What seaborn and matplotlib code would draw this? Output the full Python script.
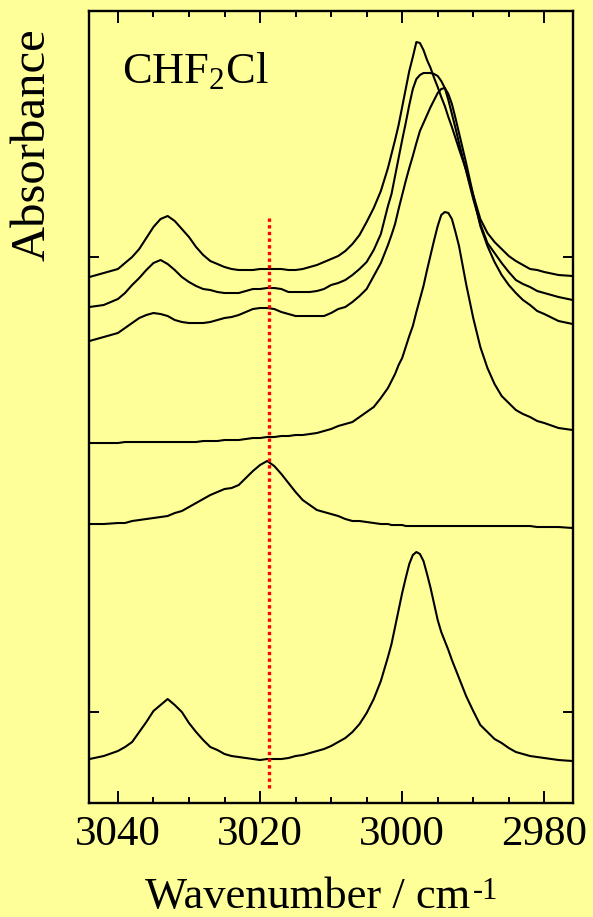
import matplotlib
matplotlib.use("Agg")
import matplotlib.pyplot as plt
from matplotlib.ticker import MultipleLocator
import seaborn as sns
import pandas as pd

# Wellenzahlen (cm-1), gemeinsam fuer alle Spektren
wavenumber = [3044, 3042, 3040, 3039, 3038, 3037, 3036, 3035, 3034, 3033,
              3032, 3031, 3030, 3029, 3028, 3027, 3026, 3025, 3024, 3023,
              3022, 3021, 3020, 3019, 3018, 3017, 3016, 3015, 3014, 3013,
              3012, 3011, 3010, 3009, 3008, 3007, 3006, 3005, 3004, 3003,
              3002, 3001.5, 3001, 3000.5, 3000, 2999.5, 2999, 2998.5, 2998, 2997.5,
              2997, 2996.5, 2996, 2995.5, 2995, 2994.5, 2994, 2993.5, 2993, 2992.5,
              2992, 2991, 2990, 2989, 2988, 2987, 2986, 2985, 2984, 2983,
              2982, 2981, 2980, 2978, 2976]

# Spektren von oben nach unten (mit Versatz)
spec1 = [5.26, 5.30, 5.34, 5.40, 5.46, 5.54, 5.65, 5.76, 5.84, 5.87,
         5.82, 5.74, 5.66, 5.56, 5.48, 5.42, 5.39, 5.36, 5.34, 5.33,
         5.33, 5.33, 5.34, 5.34, 5.34, 5.34, 5.33, 5.33, 5.34, 5.36,
         5.38, 5.41, 5.44, 5.47, 5.52, 5.59, 5.68, 5.81, 5.95, 6.12,
         6.35, 6.49, 6.63, 6.78, 6.96, 7.14, 7.32, 7.46, 7.61, 7.60,
         7.53, 7.43, 7.35, 7.25, 7.16, 7.06, 6.97, 6.86, 6.76, 6.65,
         6.54, 6.33, 6.08, 5.84, 5.70, 5.61, 5.54, 5.47, 5.42, 5.38,
         5.34, 5.33, 5.31, 5.28, 5.27]
spec2 = [4.96, 4.98, 5.04, 5.10, 5.18, 5.25, 5.33, 5.40, 5.43, 5.39,
         5.33, 5.26, 5.21, 5.17, 5.14, 5.13, 5.11, 5.10, 5.10, 5.10,
         5.12, 5.14, 5.14, 5.15, 5.15, 5.14, 5.11, 5.11, 5.11, 5.11,
         5.12, 5.14, 5.18, 5.20, 5.23, 5.28, 5.34, 5.41, 5.53, 5.69,
         5.97, 6.09, 6.27, 6.45, 6.63, 6.80, 6.98, 7.14, 7.24, 7.28,
         7.30, 7.30, 7.30, 7.29, 7.27, 7.22, 7.15, 7.03, 6.89, 6.75,
         6.60, 6.32, 6.04, 5.79, 5.60, 5.50, 5.40, 5.31, 5.23, 5.19,
         5.16, 5.12, 5.10, 5.06, 5.03]
spec3 = [4.62, 4.66, 4.70, 4.75, 4.80, 4.85, 4.88, 4.90, 4.89, 4.87,
         4.83, 4.81, 4.80, 4.80, 4.80, 4.81, 4.83, 4.85, 4.86, 4.88,
         4.91, 4.94, 4.95, 4.95, 4.94, 4.91, 4.89, 4.87, 4.87, 4.87,
         4.87, 4.87, 4.90, 4.94, 4.96, 5.01, 5.07, 5.14, 5.27, 5.40,
         5.58, 5.68, 5.79, 5.94, 6.08, 6.22, 6.35, 6.47, 6.60, 6.72,
         6.80, 6.88, 6.96, 7.03, 7.10, 7.14, 7.15, 7.09, 6.99, 6.85,
         6.70, 6.40, 6.08, 5.77, 5.57, 5.41, 5.28, 5.18, 5.10, 5.03,
         4.98, 4.92, 4.89, 4.82, 4.79]
spec4 = [3.60, 3.60, 3.60, 3.61, 3.61, 3.61, 3.61, 3.61, 3.61, 3.61,
         3.61, 3.61, 3.61, 3.61, 3.62, 3.62, 3.62, 3.63, 3.63, 3.63,
         3.64, 3.65, 3.65, 3.66, 3.66, 3.67, 3.67, 3.68, 3.68, 3.69,
         3.70, 3.72, 3.74, 3.77, 3.79, 3.81, 3.86, 3.91, 3.96, 4.05,
         4.15, 4.22, 4.29, 4.38, 4.45, 4.56, 4.67, 4.77, 4.91, 5.04,
         5.17, 5.33, 5.48, 5.63, 5.77, 5.88, 5.91, 5.90, 5.84, 5.71,
         5.57, 5.19, 4.85, 4.56, 4.35, 4.19, 4.07, 4.00, 3.93, 3.89,
         3.86, 3.82, 3.80, 3.75, 3.73]
spec5 = [2.79, 2.79, 2.80, 2.80, 2.82, 2.83, 2.84, 2.85, 2.86, 2.87,
         2.90, 2.92, 2.96, 3.00, 3.04, 3.08, 3.11, 3.14, 3.15, 3.18,
         3.25, 3.32, 3.38, 3.42, 3.37, 3.29, 3.20, 3.11, 3.03, 2.98,
         2.93, 2.91, 2.89, 2.87, 2.84, 2.82, 2.82, 2.81, 2.80, 2.79,
         2.79, 2.78, 2.78, 2.78, 2.78, 2.77, 2.77, 2.77, 2.77, 2.77,
         2.77, 2.77, 2.77, 2.77, 2.77, 2.77, 2.77, 2.77, 2.77, 2.77,
         2.77, 2.77, 2.77, 2.77, 2.77, 2.77, 2.77, 2.77, 2.77, 2.77,
         2.77, 2.76, 2.76, 2.76, 2.75]
spec6 = [0.44, 0.47, 0.52, 0.56, 0.61, 0.71, 0.81, 0.92, 0.98, 1.04,
         0.98, 0.91, 0.80, 0.71, 0.63, 0.56, 0.53, 0.49, 0.47, 0.46,
         0.45, 0.44, 0.43, 0.44, 0.44, 0.44, 0.45, 0.47, 0.48, 0.50,
         0.52, 0.54, 0.57, 0.61, 0.65, 0.71, 0.79, 0.90, 1.04, 1.22,
         1.46, 1.59, 1.76, 1.93, 2.10, 2.25, 2.39, 2.48, 2.51, 2.49,
         2.42, 2.29, 2.15, 1.99, 1.83, 1.71, 1.62, 1.53, 1.43, 1.34,
         1.25, 1.07, 0.92, 0.78, 0.71, 0.64, 0.60, 0.55, 0.51, 0.49,
         0.47, 0.46, 0.45, 0.43, 0.42]

spectra = [spec1, spec2, spec3, spec4, spec5, spec6]

# Markierung (rote gepunktete Linie)
marker_wn = 3018.7
marker_range = [0.15, 5.86]

xticks = [3040, 3020, 3000, 2980]
yticks = [0.91, 5.46]

BG = "#FFFF99"

rows = []
for i, s in enumerate(spectra):
    for w, a in zip(wavenumber, s):
        rows.append({"wn": w, "A": a, "spectrum": i})
df = pd.DataFrame(rows)

sns.set_style("white")
plt.rcParams["font.family"] = ["Liberation Serif", "DejaVu Serif"]
plt.rcParams["mathtext.fontset"] = "custom"
plt.rcParams["mathtext.rm"] = "Liberation Serif"
plt.rcParams["mathtext.it"] = "Liberation Serif:italic"
for key in ["text.color", "axes.labelcolor", "xtick.color", "ytick.color",
            "axes.edgecolor"]:
    plt.rcParams[key] = "black"

fig = plt.figure(figsize=(5.93, 9.17), dpi=100)
fig.patch.set_facecolor(BG)
ax = fig.add_axes([0.1509, 0.1243, 0.8149, 0.8637])
ax.set_facecolor(BG)

sns.lineplot(data=df, x="wn", y="A", units="spectrum", estimator=None,
             color="black", lw=1.5, ax=ax)

ax.plot([marker_wn, marker_wn], marker_range, color="red", lw=2.4,
        linestyle=(0, (1, 1)))

ax.set_xlim(3044, 2976)
ax.set_ylim(0, 7.92)
ax.set_xticks(xticks)
ax.xaxis.set_minor_locator(MultipleLocator(5))
ax.set_yticks(yticks)
ax.set_yticklabels([])
ax.set_xlabel("")
ax.set_ylabel("")

for sp in ax.spines.values():
    sp.set_color("black")
    sp.set_linewidth(1.7)

ax.tick_params(which="both", direction="in", top=True, right=True,
               bottom=True, left=True, color="black", width=1.4,
               labelsize=31, pad=9)
ax.tick_params(which="major", length=8.5)
ax.tick_params(which="minor", length=4)
ax.tick_params(axis="y", length=7)

ax.text(0.0666, 0.909, r"$\mathrm{CHF_2Cl}$", transform=ax.transAxes,
        fontsize=32, ha="left", va="baseline")

fig.text(33 / 593, 1 - 144.5 / 917, "Absorbance", rotation=90,
         ha="center", va="center", fontsize=35)

t = fig.text(145 / 593, 1 - 908 / 917, "Wavenumber / cm", ha="left",
             va="baseline", fontsize=32)
ax.annotate("-1", xy=(1, 1), xycoords=t, xytext=(2, 0),
            textcoords="offset points", ha="left", va="top", fontsize=22)

fig.savefig("out.png", dpi=100, facecolor=BG)
